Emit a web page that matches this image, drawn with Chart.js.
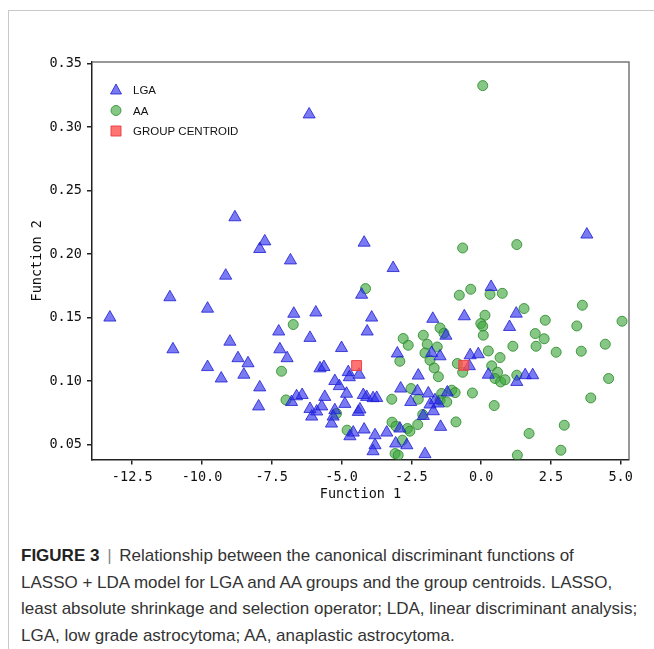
<!DOCTYPE html>
<html lang="en">
<head>
    <meta charset="UTF-8">
    <title>Figure 3 - LASSO + LDA</title>
    <style>
        body { margin: 0; background: #fff; width: 654px; height: 649px; overflow: hidden; position: relative; }
        .frame { position: absolute; left: 8px; top: 10px; right: 0; bottom: 0; border-left: 1px solid #c8c8c8; border-top: 1px solid #c8c8c8; }
        #chartBox { position: absolute; left: 0; top: 0; width: 654px; height: 520px; }
        .caption {
            position: absolute; left: 21px; top: 543px; white-space: nowrap;
            font-family: "Liberation Sans Narrow", "Liberation Sans", Arial, sans-serif;
            font-size: 17px; line-height: 26.5px; color: #333;
        }
        .caption b { color: #222; }
        .caption .bar { color: #888; padding: 0 3px; }
    </style>
</head>
<body>
    <div class="frame"></div>
    <div id="chartBox"><canvas id="ldaChart" width="654" height="520"></canvas></div>
    <div class="caption">
        <b>FIGURE 3</b> <span class="bar">|</span> Relationship between the canonical discriminant functions of<br>
        LASSO + LDA model for LGA and AA groups and the group centroids. LASSO,<br>
        least absolute shrinkage and selection operator; LDA, linear discriminant analysis;<br>
        LGA, low grade astrocytoma; AA, anaplastic astrocytoma.
    </div>

    <script src="https://cdn.jsdelivr.net/npm/chart.js"></script>
    <script>
        // LGA cases (function 1, function 2)
        const lgaX = [-13.30, -11.15, -11.04, -9.80, -9.80, -9.31, -9.15, -8.82, -9.00, -8.71,
            -8.50, -8.35, -7.75, -7.93, -6.83, -6.16, -4.19, -3.15, -4.28, -6.71,
            -5.92, -3.92, -4.08, -7.25, -6.13, -5.00, -7.21, -6.95, -7.93, -7.97,
            -5.77, -5.63, -4.76, -4.72, -4.37, -5.24, -5.08, -4.82, -4.88, -6.79,
            -6.61, -6.41, -6.13, -5.89, -6.07, -5.71, -5.60, -5.24, -5.30, -5.36,
            -4.40, -4.34, -4.22, -4.10, -3.87, -3.74, -4.58, -4.70, -4.19, -3.80,
            -3.80, -3.87, -3.38, -3.06, -2.66, -2.91, -2.88, -2.28, -2.52, -1.89,
            -1.21, -1.65, -1.53, -1.83, -2.07, -1.71, -1.45, -2.01, -2.25, -3.00,
            -1.73, -1.26, -1.77, -1.47, -0.60, 0.36, 1.26, 1.02, -0.39, -0.10,
            -0.42, 0.26, 1.28, 1.58, 1.85, 3.79];
        const lgaY = [0.150, 0.166, 0.125, 0.157, 0.111, 0.102, 0.183, 0.229, 0.131, 0.118,
            0.105, 0.114, 0.210, 0.204, 0.195, 0.310, 0.209, 0.189, 0.168, 0.153,
            0.154, 0.150, 0.139, 0.139, 0.134, 0.126, 0.125, 0.118, 0.095, 0.080,
            0.110, 0.111, 0.107, 0.103, 0.105, 0.100, 0.096, 0.090, 0.082, 0.0835,
            0.088, 0.089, 0.078, 0.076, 0.072, 0.080, 0.0875, 0.077, 0.072, 0.0665,
            0.0757, 0.0776, 0.089, 0.0875, 0.0865, 0.0867, 0.0594, 0.0565, 0.0618, 0.0573,
            0.0494, 0.0447, 0.0594, 0.0508, 0.0494, 0.0626, 0.0941, 0.092, 0.0835, 0.0902,
            0.091, 0.0849, 0.0823, 0.0815, 0.0725, 0.0762, 0.0639, 0.0424, 0.1043, 0.1217,
            0.149, 0.1357, 0.1221, 0.1195, 0.151, 0.1741, 0.1531, 0.1426, 0.1203, 0.1211,
            0.1117, 0.105, 0.0993, 0.1046, 0.1046, 0.2154];

        // AA cases
        const aaX = [0.06, -0.66, 1.28, -4.14, -6.73, -7.15, -6.99, -5.18, -4.80, -2.79,
            -2.61, -2.91, -2.07, -1.47, -1.93, -1.57, -2.01, -1.83, -1.68, -1.53,
            -0.78, -0.85, -0.66, -2.51, -3.20, -2.25, -1.41, -1.05, -0.93, -1.47,
            -1.23, -2.09, -2.27, -0.90, -3.19, -3.05, -2.64, -2.55, -2.82, -3.08,
            -2.97, -0.37, 0.32, 0.76, 1.54, 0.14, -0.01, 0.06, 0.08, 2.30,
            1.94, 2.26, 1.97, 1.14, 2.69, 0.26, 0.68, 0.38, 0.59, 0.50,
            0.70, 0.86, 1.28, -0.31, 0.47, 1.72, 1.30, 3.63, 3.43, 5.05,
            3.59, 4.45, 4.57, 3.93, 2.98, 2.86, -1.33];
        const aaY = [0.3327, 0.2048, 0.2075, 0.1728, 0.1445, 0.1077, 0.0851, 0.0744, 0.0613, 0.1335,
            0.1282, 0.1156, 0.1361, 0.1418, 0.1290, 0.1268, 0.1221, 0.1164, 0.1103, 0.1034,
            0.1676, 0.1138, 0.1069, 0.0941, 0.0857, 0.0857, 0.0902, 0.0928, 0.0909, 0.0849,
            0.0835, 0.0736, 0.0657, 0.0678, 0.0676, 0.0644, 0.0626, 0.0605, 0.0534, 0.0429,
            0.0416, 0.1723, 0.1683, 0.1691, 0.1571, 0.1518, 0.1453, 0.1432, 0.1361, 0.1479,
            0.1374, 0.1333, 0.1274, 0.1274, 0.1227, 0.1237, 0.1185, 0.1120, 0.1069, 0.1020,
            0.0993, 0.1010, 0.1046, 0.0906, 0.0807, 0.0587, 0.0416, 0.1597, 0.1434, 0.1471,
            0.1235, 0.1290, 0.1020, 0.0867, 0.0652, 0.0455, 0.1377];

        // group centroids (LGA, AA)
        const centroidX = [-4.46, -0.62];
        const centroidY = [0.1122, 0.1124];

        const xTicks = [-12.5, -10.0, -7.5, -5.0, -2.5, 0.0, 2.5, 5.0];
        const yTicks = [0.05, 0.10, 0.15, 0.20, 0.25, 0.30, 0.35];
        const legendOrder = ['LGA', 'AA', 'GROUP CENTROID'];

        const toPoints = (xs, ys) => xs.map((x, i) => ({ x: x, y: ys[i] }));

        const monoFont = { family: '"DejaVu Sans Mono", monospace', size: 13.5 };

        // gray top and right border of the plot box
        const boxPlugin = {
            id: 'box',
            afterDraw(chart) {
                const { ctx, chartArea: a } = chart;
                ctx.save();
                ctx.strokeStyle = '#777';
                ctx.lineWidth = 1.5;
                ctx.beginPath();
                ctx.moveTo(a.left, a.top);
                ctx.lineTo(a.right, a.top);
                ctx.lineTo(a.right, a.bottom);
                ctx.stroke();
                ctx.restore();
            }
        };

        // legend drawn inside the plot, upper left
        const legendPlugin = {
            id: 'innerLegend',
            afterDraw(chart) {
                const { ctx, chartArea: a } = chart;
                ctx.save();
                ctx.font = '11.5px "Liberation Sans", Arial, sans-serif';
                ctx.textBaseline = 'middle';
                legendOrder.forEach((name, i) => {
                    const ds = chart.data.datasets.find(d => d.label === name);
                    const cx = a.left + 24;
                    const cy = a.top + 28 + i * 20.5;
                    ctx.fillStyle = ds.backgroundColor;
                    ctx.strokeStyle = ds.borderColor;
                    ctx.lineWidth = 1;
                    ctx.beginPath();
                    if (ds.pointStyle === 'triangle') {
                        ctx.moveTo(cx, cy - 6);
                        ctx.lineTo(cx + 5.5, cy + 4);
                        ctx.lineTo(cx - 5.5, cy + 4);
                        ctx.closePath();
                    } else if (ds.pointStyle === 'circle') {
                        ctx.arc(cx, cy, 5, 0, Math.PI * 2);
                    } else {
                        ctx.rect(cx - 5, cy - 5, 10, 10);
                    }
                    ctx.fill();
                    ctx.stroke();
                    ctx.fillStyle = '#111';
                    ctx.fillText(ds.label, a.left + 41, cy + 1);
                });
                ctx.restore();
            }
        };

        const ctx = document.getElementById('ldaChart').getContext('2d');
        new Chart(ctx, {
            type: 'scatter',
            data: {
                datasets: [{
                    label: 'GROUP CENTROID',
                    data: toPoints(centroidX, centroidY),
                    pointStyle: 'rect',
                    pointRadius: 7,
                    backgroundColor: 'rgba(255, 80, 80, 0.8)',
                    borderColor: 'rgba(230, 60, 60, 0.9)',
                    borderWidth: 1
                }, {
                    label: 'LGA',
                    data: toPoints(lgaX, lgaY),
                    pointStyle: 'triangle',
                    pointRadius: 7,
                    backgroundColor: 'rgba(40, 40, 235, 0.62)',
                    borderColor: 'rgba(30, 30, 210, 0.8)',
                    borderWidth: 1
                }, {
                    label: 'AA',
                    data: toPoints(aaX, aaY),
                    pointStyle: 'circle',
                    pointRadius: 5,
                    backgroundColor: 'rgba(60, 165, 60, 0.62)',
                    borderColor: 'rgba(45, 140, 45, 0.85)',
                    borderWidth: 1
                }]
            },
            options: {
                responsive: false,
                animation: false,
                layout: { padding: { left: 0, top: 62, right: 25, bottom: 10.5 } },
                plugins: {
                    legend: { display: false },
                    tooltip: { enabled: false }
                },
                scales: {
                    x: {
                        type: 'linear',
                        min: -13.94,
                        max: 5.30,
                        afterBuildTicks: s => { s.ticks = xTicks.map(v => ({ value: v })); },
                        afterFit: s => { s.height = 50; },
                        ticks: {
                            callback: v => v.toFixed(1),
                            font: monoFont,
                            color: '#111',
                            padding: 5,
                            maxRotation: 0,
                            autoSkip: false
                        },
                        grid: { drawOnChartArea: false, drawTicks: true, tickLength: 5, color: '#222', lineWidth: 1.5 },
                        border: { color: '#222', width: 1.5 },
                        title: { display: true, text: 'Function 1', font: monoFont, color: '#111', padding: { top: 0, bottom: 7 } }
                    },
                    y: {
                        type: 'linear',
                        min: 0.0382,
                        max: 0.3513,
                        afterBuildTicks: s => { s.ticks = yTicks.map(v => ({ value: v })); },
                        afterFit: s => { s.width = 92; },
                        ticks: {
                            callback: v => v.toFixed(2),
                            font: monoFont,
                            color: '#111',
                            padding: 5,
                            autoSkip: false
                        },
                        grid: { drawOnChartArea: false, drawTicks: true, tickLength: 5, color: '#222', lineWidth: 1.5 },
                        border: { color: '#222', width: 1.5 },
                        title: { display: true, text: 'Function 2', font: monoFont, color: '#111', padding: { top: 29, bottom: 0 } }
                    }
                }
            },
            plugins: [boxPlugin, legendPlugin]
        });
    </script>
</body>
</html>
